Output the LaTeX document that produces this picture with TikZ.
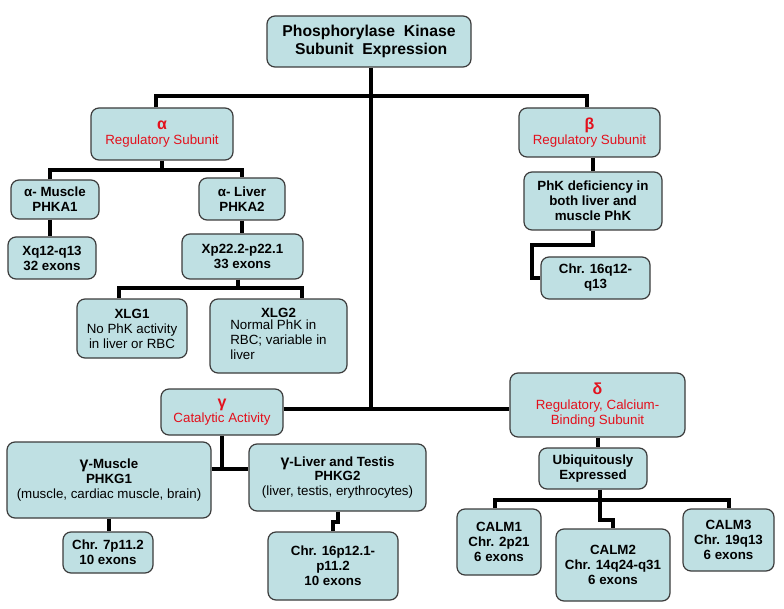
\documentclass[tikz,border=0pt]{standalone}
\usepackage{fontspec}
\setmainfont{Liberation Sans}
\definecolor{boxfill}{HTML}{BFE0E3}
\definecolor{boxline}{HTML}{3C3C3C}
\definecolor{phred}{HTML}{E3101C}
\newcommand\bx[7][]{\node[box, #1, minimum width={(#5-#3)*0.75pt}, minimum height={(#6-#4)*0.75pt}] (#2) at ({(#3+#5)/2},{(#4+#6)/2}) {#7};}
\begin{document}
\begin{tikzpicture}[x=0.75pt,y=-0.75pt,
  box/.style={draw=boxline, line width=0.9pt, fill=boxfill, rounded corners=6pt,
    align=center, inner sep=1pt, font=\fontsize{10}{11.2}\selectfont},
  bbox/.style={font=\fontsize{10}{11.2}\selectfont\bfseries},
  redbox/.style={text=phred},
  titlebox/.style={font=\fontsize{11.8}{13.5}\selectfont\bfseries},
  conn/.style={draw=black, line width=3pt}]
\useasboundingbox[fill=white] (0,0) rectangle (784,609);
% boxes
\bx[titlebox]{top}{267}{16}{471}{67}{Phosphorylase\ \ Kinase\\ \ Subunit\ \ Expression}
\bx[redbox]{alpha}{91}{108}{233}{160}{\textbf{\large α}\\Regulatory Subunit}
\bx[redbox]{beta}{519}{108}{660}{157}{\textbf{\large β}\\Regulatory Subunit}
\bx[bbox]{amus}{11}{180}{99}{219}{α- Muscle\\PHKA1}
\bx[bbox]{aliv}{199}{178}{285}{220}{α- Liver\\PHKA2}
\bx[bbox]{xq}{8}{237}{96}{279}{Xq12-q13\\32 exons}
\bx[bbox]{xp}{182}{234}{303}{279}{Xp22.2-p22.1\\33 exons}
\bx{xlgone}{77}{299}{187}{358}{\textbf{XLG1}\\No PhK activity\\in liver or RBC}
\bx{xlgtwo}{210}{299}{347}{373}{\textbf{XLG2}\\\begin{tabular}{@{}l@{}}Normal PhK in\\RBC; variable in\\liver\end{tabular}}
\bx[bbox]{phk}{524}{172}{662}{230}{PhK deficiency in\\both liver and\\muscle PhK}
\bx[bbox]{chrq}{541}{257}{650}{299}{Chr. 16q12-\\q13}
\bx[redbox]{gamma}{161}{389}{283}{435}{\textbf{\large γ}\\Catalytic Activity}
\bx[redbox]{delta}{510}{373}{685}{437}{\textbf{\large δ}\\Regulatory, Calcium-\\Binding Subunit}
\bx{gmus}{7}{442}{211}{518}{\textbf{{\large γ}-Muscle}\\\textbf{PHKG1}\\(muscle, cardiac muscle, brain)}
\bx{gliv}{249}{444}{426}{511}{\textbf{{\large γ}-Liver and Testis}\\\textbf{PHKG2}\\(liver, testis, erythrocytes)}
\bx[bbox]{chrseven}{63}{532}{153}{573}{Chr. 7p11.2\\10 exons}
\bx[bbox]{chrp}{268}{532}{398}{600}{Chr. 16p12.1-\\p11.2\\10 exons}
\bx[bbox]{ubiq}{539}{448}{647}{489}{Ubiquitously\\Expressed}
\bx[bbox]{calmone}{457}{509}{541}{575}{CALM1\\Chr. 2p21\\6 exons}
\bx[bbox]{calmtwo}{556}{529}{670}{601}{CALM2\\Chr. 14q24-q31\\6 exons}
\bx[bbox]{calmthree}{683}{509}{774}{571}{CALM3\\Chr. 19q13\\6 exons}
% connectors
\coordinate (tj) at (371,409);
\draw[conn] ([xshift=1.5pt]top.south) -- ([xshift=1.5pt]top.south |- tj);
\draw[conn] ([xshift=-4.5pt]alpha.north) -- ++(0,-11) -| ([xshift=-2pt]beta.north);
\draw[conn] (gamma.east |- tj) -- (delta.west |- tj);
\draw[conn] (alpha.south) -- ++(0,9) coordinate (aj);
\draw[conn] ([xshift=-3.75pt]amus.north) |- (aj) -| (aliv.north);
\draw[conn] ([xshift=-3.75pt]amus.south) -- ([xshift=-3.75pt]amus.south |- xq.north);
\draw[conn] (aliv.south) -- (aliv.south |- xp.north);
\draw[conn] ([xshift=-3.4pt]xp.south) -- ++(0,8) coordinate (xj);
\draw[conn] ([xshift=-9.75pt]xlgone.north) |- (xj) -| ([xshift=17.6pt]xlgtwo.north);
\draw[conn] (phk.north |- beta.south) -- (phk.north);
\draw[conn] (phk.south) -- ++(0,14) -- ++(-61,0) |- (chrq.west);
\draw[conn] (gamma.south) -- ++(0,33) coordinate (gj);
\draw[conn] (gmus.east |- gj) -- (gliv.west |- gj);
\draw[conn] (gmus.south) -- (gmus.south |- chrseven.north);
\draw[conn] (gliv.south) -- ++(0,10) -| (chrp.north);
\draw[conn] (delta.south) -- (delta.south |- ubiq.north);
\draw[conn] ([xshift=5.25pt]ubiq.south) -- ++(0,10) coordinate (uj);
\draw[conn] ([xshift=-3pt]calmone.north) |- (uj) -| (calmthree.north);
\draw[conn] (uj) -- ++(0,20) -| (calmtwo.north);
\end{tikzpicture}
\end{document}
